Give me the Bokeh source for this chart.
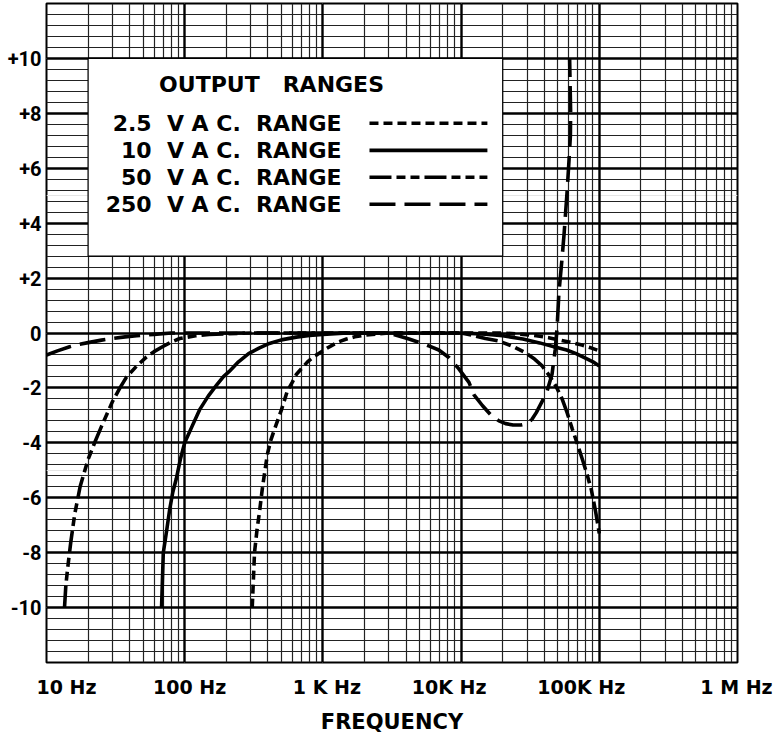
import numpy as np
from bokeh.plotting import figure
from bokeh.models import (LogAxis, LinearAxis, FixedTicker, Grid, Range1d,
                          CustomJSTickFormatter)
from bokeh.core.properties import value
from bokeh.embed import file_html
from bokeh.resources import INLINE

# ---------------- data ----------------
freq_25 = [308, 314, 320, 333, 348, 366, 397, 420, 447, 501, 554, 600, 644,
           700, 774, 850, 945, 1050, 1173, 1300, 1482, 1700, 2000, 2500, 3000,
           10000, 20000, 28000, 35000, 43000, 51000, 62000, 75000, 87000,
           100000]
db_25 = [-10, -9, -8, -7.2, -6.5, -5.6, -4.4, -3.9, -3.5, -2.8, -2.1, -1.8,
         -1.5, -1.3, -1.05, -0.88, -0.73, -0.58, -0.44, -0.32, -0.22, -0.14,
         -0.08, -0.03, 0, 0, 0, -0.05, -0.1, -0.17, -0.25, -0.34, -0.44,
         -0.54, -0.65]

freq_10 = [68, 69, 70, 72, 74, 78, 82, 87, 93, 100, 113, 128, 148, 170, 190,
           210, 245, 290, 345, 410, 500, 640, 800, 1000, 1500, 10000, 15000,
           20000, 28000, 37000, 47000, 58000, 68000, 80000, 90000, 100000]
db_10 = [-10, -9, -8, -7.6, -7.2, -6.4, -5.8, -5.3, -4.6, -4.0, -3.4, -2.8,
         -2.3, -1.9, -1.6, -1.4, -1.05, -0.75, -0.55, -0.38, -0.25, -0.15,
         -0.09, -0.05, 0, 0, -0.04, -0.1, -0.22, -0.36, -0.5, -0.62, -0.75,
         -0.92, -1.05, -1.2]

freq_50 = [13.5, 13.8, 14.2, 15, 16, 17.5, 20, 22.5, 25, 30, 34, 38, 45, 53,
           60, 69, 80, 92, 120, 150, 300, 10000, 12500, 15000, 19000, 24000,
           29500, 34000, 38600, 43500, 48700, 53800, 58500, 63800, 69000,
           75400, 81000, 87500, 94000, 100000]
db_50 = [-10, -9.2, -8.6, -7.6, -6.6, -5.6, -4.6, -3.95, -3.4, -2.5, -2.0,
         -1.6, -1.2, -0.87, -0.68, -0.5, -0.33, -0.2, -0.1, -0.05, 0, 0, -0.1,
         -0.2, -0.3, -0.5, -0.73, -0.95, -1.2, -1.55, -1.95, -2.4, -2.9, -3.5,
         -4.0, -4.6, -5.1, -5.7, -6.5, -7.3]

freq_250 = [10, 12, 14.7, 17, 20, 25, 30, 37, 45, 60, 80, 3000, 3600, 4200,
            5000, 5900, 6900, 8200, 9600, 11400, 12400, 14300, 16500, 18800,
            21000, 23800, 27000, 30000, 32500, 35000, 38500, 42000, 45500,
            48000, 49500, 51000, 53500, 55600, 58400, 60400, 61800, 62000,
            61500, 61000]
db_250 = [-0.8, -0.65, -0.5, -0.42, -0.35, -0.26, -0.2, -0.14, -0.1, -0.05,
          0, 0, -0.12, -0.22, -0.35, -0.48, -0.62, -0.9, -1.3, -1.8, -2.25,
          -2.65, -3.0, -3.2, -3.3, -3.35, -3.35, -3.3, -3.15, -2.9, -2.5, -2.1,
          -1.5, -0.6, 0.2, 1.45, 2.6, 3.6, 5.1, 6.3, 7.2, 8.1, 9.0, 10]

NB = "\u00a0"
series_names = ["2.5" + NB * 2 + "V" + NB + "A" + NB + "C." + NB * 2 + "RANGE",
                "10" + NB * 2 + "V" + NB + "A" + NB + "C." + NB * 2 + "RANGE",
                "50" + NB * 2 + "V" + NB + "A" + NB + "C." + NB * 2 + "RANGE",
                "250" + NB * 2 + "V" + NB + "A" + NB + "C." + NB * 2 + "RANGE"]
legend_title = "OUTPUT" + NB * 3 + "RANGES"

y_ticks = [10, 8, 6, 4, 2, 0, -2, -4, -6, -8, -10]
y_tick_labels = ["+10", "+8", "+6", "+4", "+2", "0", "-2", "-4", "-6", "-8",
                 "-10"]

x_decades = [10, 100, 1000, 10000, 100000, 1000000]
x_tick_labels = ["10 Hz", "100 Hz", "1 K Hz", "10K Hz", "100K Hz", "1 M Hz"]
x_label_nudge_px = [20, 5, 4, -12, -18, -1]   # layout nudges of the labels

axis_title = "FREQUENCY"

FONT = "DejaVu Sans"
YFONT = "Roboto"
PX_PER_DECADE = 691 / 5.0

# ---------------- figure ----------------
p = figure(width=782, height=741, x_axis_type="log",
           x_range=Range1d(10, 1000000), y_range=Range1d(-12, 12),
           x_axis_location=None, y_axis_location=None,
           toolbar_location=None, output_backend="svg",
           min_border_left=46, min_border_right=45, min_border_top=3,
           min_border_bottom=79)
p.outline_line_color = "black"
p.outline_line_width = 2
p.background_fill_color = "white"
p.border_fill_color = "white"

# grid
minor_x = [k * d for d in x_decades[:-1] for k in range(2, 10)]
major_x = x_decades
all_y = np.round(np.arange(-30, 31) * 0.4, 1)
minor_y = [float(v) for v in all_y if abs(v / 2 - round(v / 2)) > 1e-6]
major_y = [float(v) for v in range(-12, 13, 2)]

for dim, ticks, w, c in [(0, minor_x, 1.2, "#222222"), (1, minor_y, 1.2, "#222222"),
                         (0, major_x, 2.4, "black"), (1, major_y, 2.4, "black")]:
    p.add_layout(Grid(dimension=dim, ticker=FixedTicker(ticks=ticks),
                      grid_line_color=c, grid_line_width=w))

# legend box (white, covers grid)
BOX = dict(left=20, right=20000, bottom=2.8, top=10)
p.quad(**BOX, fill_color="white", line_color="black", line_width=1.2)

# curves
dashes = ["9 5", "solid", "22 5 9 5 9 5", "26 9"]
series = [(freq_25, db_25), (freq_10, db_10), (freq_50, db_50),
          (freq_250, db_250)]
for (f, d), dash in zip(series, dashes):
    p.line(f, d, line_color="black", line_width=3.6, line_dash=dash,
           line_join="round")

# legend contents
leg_y = [7.64, 6.65, 5.67, 4.69]
p.text(x=[425], y=[9.04], text=[legend_title], text_align="center",
       text_baseline="middle", text_font=value(FONT), text_font_style="bold",
       text_font_size="22px", text_color="black")
p.text(x=[1365] * 4, y=leg_y, text=series_names, text_align="right",
       text_baseline="middle", text_font=value(FONT), text_font_style="bold",
       text_font_size="22px", text_color="black")
for yy, dash in zip(leg_y, dashes):
    p.line([2173, 15500], [yy, yy], line_color="black", line_width=3.6,
           line_dash=dash)

# y axis
yaxis = LinearAxis(ticker=FixedTicker(ticks=y_ticks),
                   major_label_overrides={t: l for t, l in zip(y_ticks, y_tick_labels)})
yaxis.axis_line_color = None
yaxis.major_tick_line_color = None
yaxis.minor_tick_line_color = None
yaxis.major_tick_out = 0
yaxis.major_tick_in = 0
yaxis.major_label_standoff = 5
yaxis.major_label_text_font = YFONT
yaxis.major_label_text_font_style = "bold"
yaxis.major_label_text_font_size = "20px"
yaxis.major_label_text_color = "black"
p.add_layout(yaxis, "left")

# x axis: labels at decades, nudged by a few pixels as in the original
label_pos = [d * 10 ** (n / PX_PER_DECADE) for d, n in zip(x_decades, x_label_nudge_px)]
xaxis = LogAxis(ticker=FixedTicker(ticks=label_pos),
                formatter=CustomJSTickFormatter(args=dict(labels=x_tick_labels),
                                                code="return labels[index];"))
xaxis.axis_line_color = None
xaxis.major_tick_line_color = None
xaxis.minor_tick_line_color = None
xaxis.major_tick_out = 0
xaxis.major_tick_in = 0
xaxis.major_label_standoff = 13
xaxis.major_label_text_font = FONT
xaxis.major_label_text_font_style = "bold"
xaxis.major_label_text_font_size = "19px"
xaxis.major_label_text_color = "black"
xaxis.axis_label = axis_title
xaxis.axis_label_standoff = 9
xaxis.axis_label_text_font = FONT
xaxis.axis_label_text_font_style = "bold"
xaxis.axis_label_text_font_size = "21px"
xaxis.axis_label_text_color = "black"
p.add_layout(xaxis, "below")

open("out.html", "w").write(file_html(p, INLINE))
